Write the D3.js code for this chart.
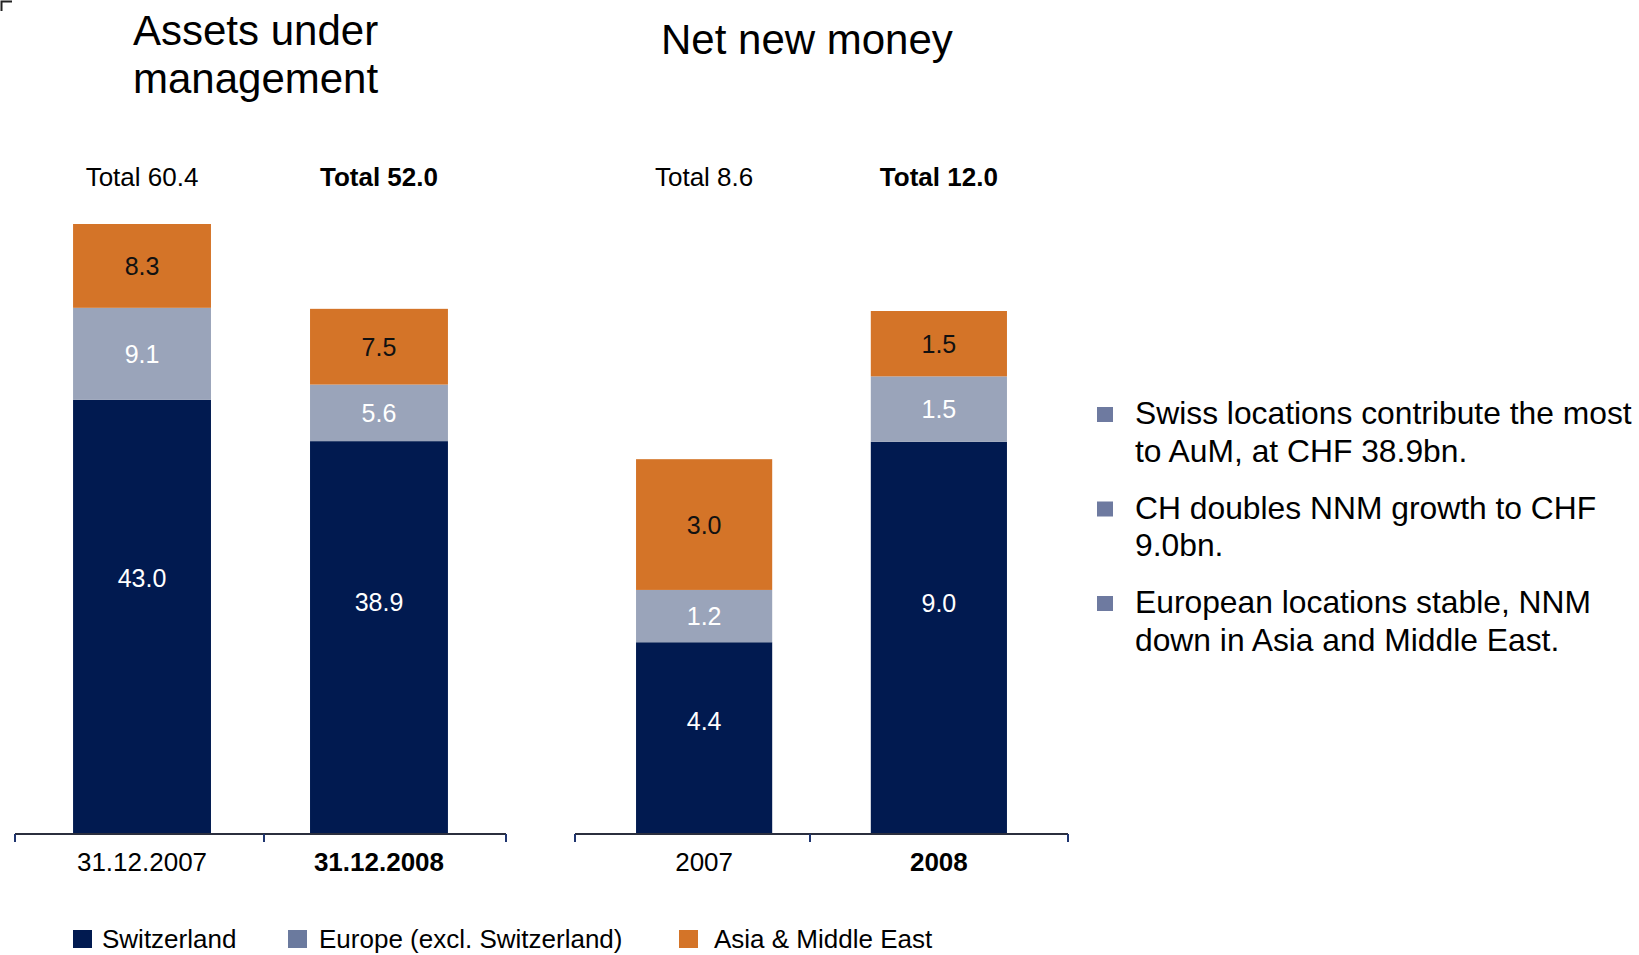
<!DOCTYPE html>
<html>
<head>
<meta charset="utf-8">
<script src="https://cdn.jsdelivr.net/npm/d3@7/dist/d3.min.js"></script>
<style>
  html, body { margin: 0; padding: 0; background: #ffffff; }
  svg { display: block; font-family: "Liberation Sans", Arial, Helvetica, sans-serif; }
</style>
</head>
<body>
<svg id="chart" width="1639" height="955"></svg>
<script>
// Regions (stack order, bottom to top)
const seriesNames = ["Switzerland", "Europe (excl. Switzerland)", "Asia & Middle East"];
const seriesKeys = ["ch", "eu", "asia"];

// Assets under management, CHF bn
const aumCategories = ["31.12.2007", "31.12.2008"];
const aumSwitzerland = [43.0, 38.9];
const aumEurope = [9.1, 5.6];
const aumAsia = [8.3, 7.5];
const aumTotals = [60.4, 52.0];

// Net new money, CHF bn
const nnmCategories = ["2007", "2008"];
const nnmSwitzerland = [4.4, 9.0];
const nnmEurope = [1.2, 1.5];
const nnmAsia = [3.0, 1.5];
const nnmTotals = [8.6, 12.0];

// Commentary bullets
const bullets = [
  ["Swiss locations contribute the most", "to AuM, at CHF 38.9bn."],
  ["CH doubles NNM growth to CHF", "9.0bn."],
  ["European locations stable, NNM", "down in Asia and Middle East."]
];

const barColors = { ch: "#011a50", eu: "#9aa4ba", asia: "#d47428" };
const legendColors = { ch: "#011a50", eu: "#6b7a9e", asia: "#d47428" };
const labelColors = { ch: "#ffffff", eu: "#ffffff", asia: "#111111" };

const svg = d3.select("#chart");
const baseY = 834;

// small crop mark in the corner
svg.append("path")
  .attr("d", "M1.5,11 V1.5 H12")
  .attr("fill", "none")
  .attr("stroke", "#222")
  .attr("stroke-width", 2);

function drawPanel(opts) {
  const rows = opts.categories.map((c, i) => ({
    cat: c, ch: opts.ch[i], eu: opts.eu[i], asia: opts.asia[i], total: opts.totals[i], idx: i
  }));
  const stacked = d3.stack().keys(seriesKeys)(rows);

  const x = d3.scaleBand()
    .domain(opts.categories)
    .range([opts.x0, opts.x1])
    .paddingInner(opts.padIn)
    .paddingOuter(opts.padOut);
  const y = d3.scaleLinear().domain([0, opts.maxVal]).range([baseY, opts.topY]);

  const g = svg.append("g");

  // title
  const title = g.append("text")
    .attr("x", opts.titleX)
    .attr("y", opts.titleY)
    .attr("font-size", 42)
    .attr("fill", "#000");
  opts.title.forEach((line, i) => {
    title.append("tspan").attr("x", opts.titleX).attr("dy", i === 0 ? 0 : 48).text(line);
  });

  // stacked segments
  stacked.forEach(layer => {
    const key = layer.key;
    g.selectAll(null).data(layer).enter().append("rect")
      .attr("x", d => x(d.data.cat))
      .attr("width", x.bandwidth())
      .attr("y", d => y(d[1]))
      .attr("height", d => y(d[0]) - y(d[1]))
      .attr("fill", barColors[key]);

    g.selectAll(null).data(layer).enter().append("text")
      .attr("x", d => x(d.data.cat) + x.bandwidth() / 2)
      .attr("y", d => {
        const top = y(d[1]), bot = y(d[0]);
        const f = key === "ch" ? 0.41 : 0.5;
        return top + (bot - top) * f;
      })
      .attr("dy", "0.36em")
      .attr("text-anchor", "middle")
      .attr("font-size", 25)
      .attr("fill", labelColors[key])
      .text(d => d.data[key].toFixed(1));
  });

  // totals
  g.selectAll(null).data(rows).enter().append("text")
    .attr("x", d => x(d.cat) + x.bandwidth() / 2)
    .attr("y", 186)
    .attr("text-anchor", "middle")
    .attr("font-size", 26)
    .attr("font-weight", d => d.idx === 1 ? "bold" : "normal")
    .attr("fill", "#000")
    .text(d => "Total " + d.total.toFixed(1));

  // category axis
  const axisG = g.append("g");
  axisG.append("line")
    .attr("x1", opts.x0).attr("x2", opts.x1)
    .attr("y1", baseY).attr("y2", baseY)
    .attr("stroke", "#2b2f3e").attr("stroke-width", 2);
  [opts.x0, opts.tickMid, opts.x1].forEach(tx => {
    axisG.append("line")
      .attr("x1", tx).attr("x2", tx)
      .attr("y1", baseY).attr("y2", baseY + 8)
      .attr("stroke", "#1f3570").attr("stroke-width", 2);
  });
  axisG.selectAll(null).data(rows).enter().append("text")
    .attr("x", d => x(d.cat) + x.bandwidth() / 2)
    .attr("y", 871)
    .attr("text-anchor", "middle")
    .attr("font-size", 26)
    .attr("font-weight", d => d.idx === 1 ? "bold" : "normal")
    .attr("fill", "#000")
    .text(d => d.cat);
}

drawPanel({
  title: ["Assets under", "management"], titleX: 133, titleY: 45,
  categories: aumCategories, ch: aumSwitzerland, eu: aumEurope, asia: aumAsia, totals: aumTotals,
  x0: 15, x1: 506, tickMid: 264, padIn: 0.418, padOut: 0.245,
  maxVal: 60.4, topY: 224
});

drawPanel({
  title: ["Net new money"], titleX: 661, titleY: 54,
  categories: nnmCategories, ch: nnmSwitzerland, eu: nnmEurope, asia: nnmAsia, totals: nnmTotals,
  x0: 575, x1: 1068, tickMid: 810, padIn: 0.42, padOut: 0.26,
  maxVal: 12.0, topY: 311
});

// commentary
const bulletG = svg.append("g");
bullets.forEach((lines, i) => {
  const by = 424 + i * 94.5;
  bulletG.append("rect")
    .attr("x", 1097).attr("y", by - 17)
    .attr("width", 16).attr("height", 15)
    .attr("fill", "#6e7aa0");
  lines.forEach((line, j) => {
    bulletG.append("text")
      .attr("x", 1135).attr("y", by + j * 37.7)
      .attr("font-size", 31.8)
      .attr("fill", "#000")
      .text(line);
  });
});

// legend
const legendSquareX = [73, 288, 679];
const legendTextX = [102, 319, 714];
const legendG = svg.append("g");
seriesKeys.forEach((k, i) => {
  legendG.append("rect")
    .attr("x", legendSquareX[i]).attr("y", 930)
    .attr("width", 19).attr("height", 18)
    .attr("fill", legendColors[k]);
  legendG.append("text")
    .attr("x", legendTextX[i]).attr("y", 948)
    .attr("font-size", 26)
    .attr("fill", "#000")
    .text(seriesNames[i]);
});
</script>
</body>
</html>
